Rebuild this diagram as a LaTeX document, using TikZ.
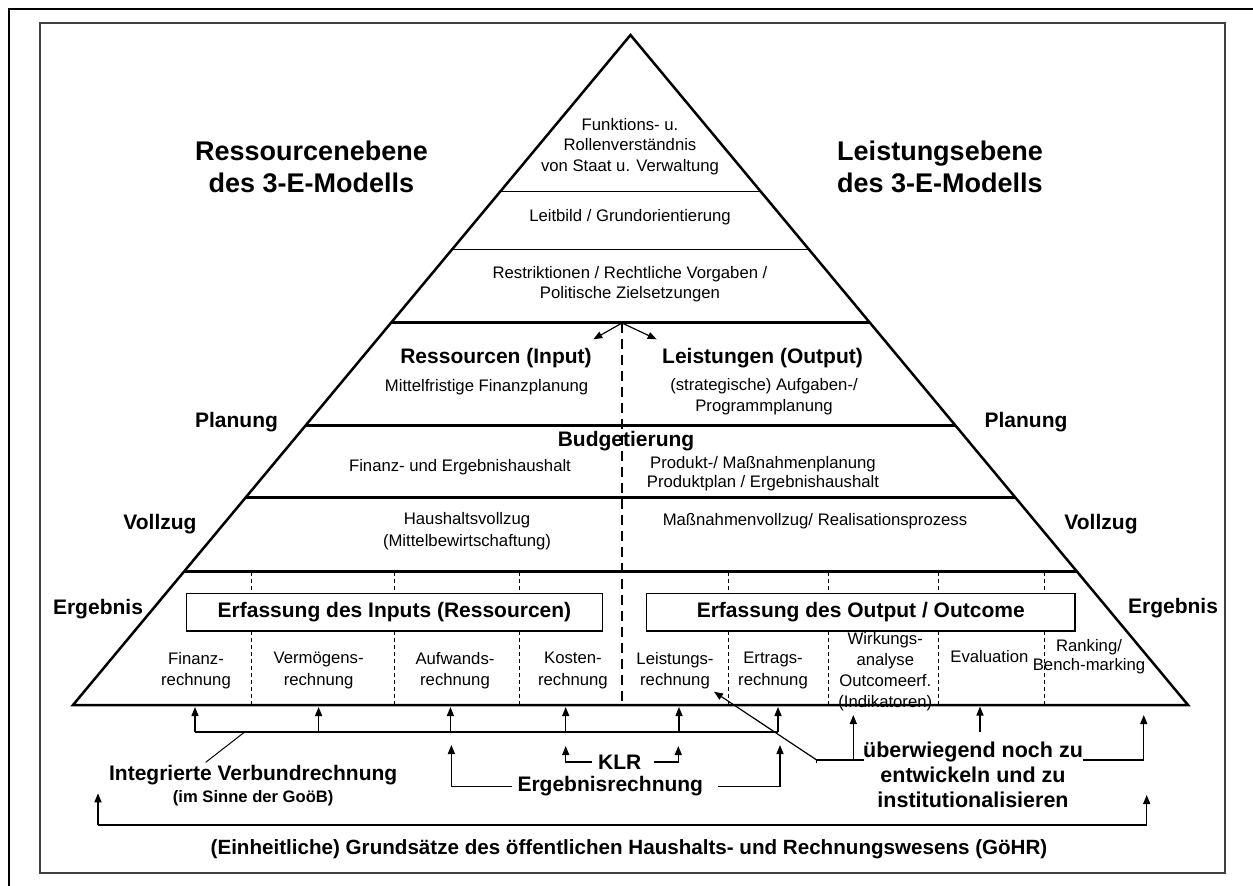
\documentclass[tikz,border=0pt]{standalone}
\usepackage{fontspec}
\setmainfont{Liberation Sans}
\usetikzlibrary{arrows.meta}
\begin{document}
\begin{tikzpicture}[x=1pt,y=-1pt,
  txt/.style={font=\fontsize{16.7}{20.5}\selectfont, inner sep=0pt, align=center},
  coltxt/.style={font=\fontsize{16.7}{21.7}\selectfont, inner sep=0pt, align=center},
  lbl/.style={font=\fontsize{21}{25}\selectfont\bfseries, inner sep=0pt, align=center},
  biglbl/.style={font=\fontsize{27}{32.6}\selectfont\bfseries, inner sep=0pt, align=center},
  pyr/.style={line width=2.5pt},
  band/.style={line width=1pt},
  sepline/.style={line width=0.8pt, dash pattern=on 4pt off 3pt},
  middash/.style={line width=2.6pt, dash pattern=on 10pt off 6pt},
  arr/.style={line width=1.4pt, -{Triangle[length=9pt,width=7pt]}},
  con/.style={line width=1.4pt},
  boxst/.style={draw, line width=1.2pt, inner sep=0pt, minimum height=37.7pt}
]
\useasboundingbox (0,0) rectangle (1253,886);

% frames
\draw[line width=2pt] (9,890) -- (9,9) -- (1256,9);
\draw[line width=1.4pt, black!75] (40,23) rectangle (1225,873);

% pyramid corners
\coordinate (apex) at (630.5,35);
\coordinate (bl) at (73,705);
\coordinate (br) at (1188,705);

% side labels
\node[biglbl] (resE) at (311.5,167) {Ressourcenebene\\des 3-E-Modells};
\node[biglbl] (leiE) at (940,167) {Leistungsebene\\des 3-E-Modells};
\node[lbl] (planL) at (236.5,422) {Planung};
\node[lbl] (planR) at (1026,422) {Planung};
\node[lbl] (vollL) at (160,524) {Vollzug};
\node[lbl] (vollR) at (1101,524) {Vollzug};
\node[lbl] (ergL) at (98,609) {Ergebnis};
\node[lbl] (ergR) at (1173,608) {Ergebnis};

% top sections
\node[txt] (funk) at (630,146.3) {Funktions- u.\\Rollenverständnis\\von Staat u. Verwaltung};
\node[txt] (leit) at (630,217.3) {Leitbild / Grundorientierung};
\node[txt] (restr) at (630,284.2) {Restriktionen / Rechtliche Vorgaben /\\Politische Zielsetzungen};

% band: Ressourcen / Leistungen
\node[lbl] (resin) at (496,358.3) {Ressourcen (Input)};
\node[txt] (mfp) at (486.6,386.7) {Mittelfristige Finanzplanung};
\node[lbl] (leiout) at (762.5,358.3) {Leistungen (Output)};
\node[txt] (aufg) at (764,396.7) {(strategische) Aufgaben-/\\Programmplanung};

% band: Budgetierung
\node[lbl] (budg) at (626,441) {Budgetierung};
\node[txt] (feh) at (460,467) {Finanz- und Ergebnishaushalt};
\node[coltxt, font=\fontsize{16.7}{19}\selectfont] (prod) at (763,474) {Produkt-/ Maßnahmenplanung\\Produktplan / Ergebnishaushalt};

% band: Vollzug
\node[coltxt] (hhv) at (467,531.5) {Haushaltsvollzug\\(Mittelbewirtschaftung)};
\node[txt] (mnv) at (815,521) {Maßnahmenvollzug/ Realisationsprozess};

% Ergebnis band
\node[boxst, lbl, minimum width=416.1pt] (inbox) at (394.45,612.15) {Erfassung des Inputs (Ressourcen)};
\node[boxst, lbl, minimum width=428.5pt] (outbox) at (860.75,612.15) {Erfassung des Output / Outcome};

\node[coltxt] (c1) at (196,670.8) {Finanz-\\rechnung};
\node[coltxt] (c2) at (318.6,670.8) {Vermögens-\\rechnung};
\node[coltxt] (c3) at (455,670.8) {Aufwands-\\rechnung};
\node[coltxt] (c4) at (572.9,670.8) {Kosten-\\rechnung};
\node[coltxt] (c5) at (675,670.8) {Leistungs-\\rechnung};
\node[coltxt] (c6) at (773,670.8) {Ertrags-\\rechnung};
\node[coltxt, font=\fontsize{16.7}{21}\selectfont] (c7) at (885.3,671.5) {Wirkungs-\\analyse\\Outcomeerf.\\(Indikatoren)};
\node[coltxt] (c8) at (989.4,656.7) {Evaluation};
\node[coltxt, font=\fontsize{16.7}{19.3}\selectfont] (c9) at (1089,656.4) {Ranking/\\Bench-marking};

% band lines
\draw[band] (500.2,191.7) -- (760.8,191.7);
\draw[band] (452.4,249.3) -- (808.6,249.3);
\draw[pyr] (391.3,322.7) -- (869.7,322.7);
\draw[pyr] (305.7,425.7) -- (955.3,425.7);
\draw[pyr] (246.2,497.3) -- (1014.8,497.3);
\draw[pyr] (184.3,571.7) -- (1076.7,571.7);

% dashed separators
\foreach \sx in {251.4,394.3,519.3,728.2,828.2,938.4,1044.5} {
  \draw[sepline] (\sx,571.7) -- (\sx,593.3);
  \draw[sepline] (\sx,631) -- (\sx,705);
}

% centre dashed line with arrows
\coordinate (dtop) at (622,323);
\coordinate (dbot) at (622,705);
\coordinate (dl) at (593.3,339.3);
\coordinate (dr) at (656.7,339.3);
\draw[middash] (dtop) -- (dbot);
\draw[arr, line width=1.2pt] (dtop) -- (dl);
\draw[arr, line width=1.2pt] (dtop) -- (dr);

% pyramid outline
\draw[pyr, line join=miter, miter limit=30] (apex) -- (br) -- (bl) -- cycle;

% ---- bottom annotations ----
% Integrierte Verbundrechnung bracket
\node[lbl] (integ) at (253.2,775) {Integrierte Verbundrechnung};
\node[font=\fontsize{16.6}{20}\selectfont\bfseries, inner sep=0pt] (imsinne) at (253.2,798.3) {(im Sinne der GoöB)};
\foreach \ax/\nm in {195/v1,318.6/v2,450.4/v3,565.7/v4,679/v5,778/v6} {
  \coordinate (\nm b) at (\ax,732);
  \coordinate (\nm t) at (\ax,707);
  \draw[arr] (\nm b) -- (\nm t);
}
\draw[con] (v1b) -- (v6b);
\coordinate (vlead) at (244.3,732.3);
\coordinate (vleadend) at (205.7,762.3);
\draw[line width=1pt] (vlead) -- (vleadend);

% KLR
\node[lbl] (klr) at (619.8,762) {KLR};
\coordinate (klrL) at (565.7,746);
\coordinate (klrR) at (678.3,746);
\draw[arr] ([xshift=-6pt]klr.west) -| (klrL);
\draw[arr] ([xshift=12pt]klr.east) -| (klrR);

% Ergebnisrechnung
\node[lbl] (ergr) at (610.3,786.5) {Ergebnisrechnung};
\coordinate (ergL) at (451.4,745);
\coordinate (ergRt) at (780,745);
\draw[arr] ([xshift=-5pt]ergr.west) -| (ergL);
\draw[arr] ([xshift=15pt]ergr.east) -| (ergRt);

% überwiegend noch zu entwickeln
\node[lbl, font=\fontsize{21.5}{25}\selectfont\bfseries] (ueb) at (973,775) {überwiegend noch zu\\entwickeln und zu\\institutionalisieren};
\coordinate (ueLeft) at (864,760);
\coordinate (ueKnee) at (816.7,760);
\coordinate (ueTick) at (816.7,763);
\coordinate (leisTip) at (714,691.7);
\coordinate (wirkB) at (853.3,760);
\coordinate (wirkT) at (853.3,715);
\coordinate (evB) at (980,731.7);
\coordinate (evT) at (980,706.5);
\coordinate (ueRight) at (1083,760);
\coordinate (rankT) at (1143.75,715);
\draw[con] (ueLeft) -- (ueKnee) -- (ueTick);
\draw[line width=1.2pt, -{Triangle[length=9pt,width=7pt]}] (ueKnee) -- (leisTip);
\draw[arr] (wirkB) -- (wirkT);
\draw[arr] (evB) -- (evT);
\draw[arr] (ueRight) -| (rankT);

% Grundsätze bracket
\node[lbl, font=\fontsize{20.6}{25}\selectfont\bfseries] (goehr) at (629,849) {(Einheitliche) Grundsätze des öffentlichen Haushalts- und Rechnungswesens (GöHR)};
\coordinate (gL) at (98,825);
\coordinate (gLt) at (98,793.3);
\coordinate (gR) at (1146.7,825);
\coordinate (gRt) at (1146.7,795);
\draw[arr] (gL) -- (gLt);
\draw[arr] (gR) -- (gRt);
\draw[con] (gL) -- (gR);
\end{tikzpicture}
\end{document}
